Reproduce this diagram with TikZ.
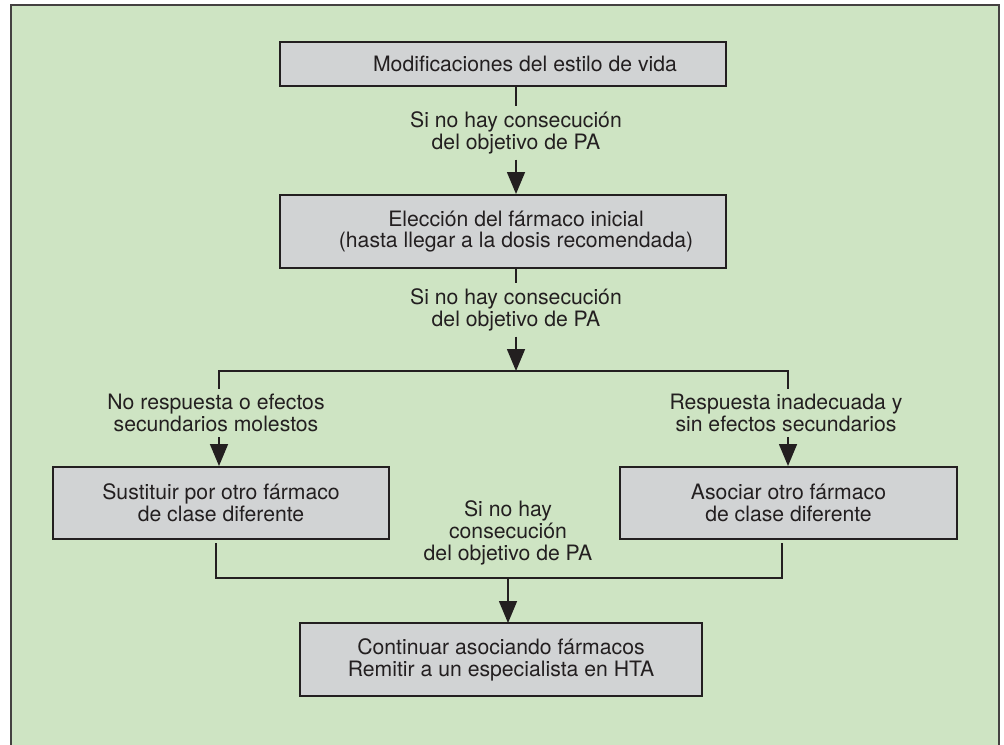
\documentclass[tikz,border=0pt]{standalone}
\usepackage{fontspec}
\setmainfont{TeX Gyre Heros}
\usetikzlibrary{arrows.meta}
\definecolor{bggreen}{RGB}{206,228,195}
\definecolor{boxgray}{RGB}{209,211,212}
\definecolor{ink}{RGB}{35,31,32}
\newcommand{\shiftline}{\hspace*{13pt}}
\begin{document}
\begin{tikzpicture}[x=0.5pt,y=-0.5pt,
  stepbox/.style={draw=ink,fill=boxgray,line width=1pt,align=center,inner sep=0pt,font=\fontsize{10.6}{10.9}\selectfont,text=ink},
  lbl/.style={align=center,inner sep=2.5pt,font=\fontsize{10.6}{10.9}\selectfont,text=ink},
  conn/.style={draw=ink,line width=0.8pt},
  arr/.style={conn,-{Triangle[width=9pt,length=11pt]}}]
\clip (0,0) rectangle (1004,744);
\fill[white] (0,0) rectangle (1004,744);
\draw[fill=bggreen,draw=ink!85,line width=1.2pt] (11,5) rectangle (999,790);

\node[stepbox,minimum width=223pt,minimum height=22pt] (b1) at (503,64) {\hspace*{22pt}Modificaciones del estilo de vida};
\node[lbl] (t1) at (516,133) {Si no hay consecución\\del objetivo de PA};
\node[stepbox,minimum width=223pt,minimum height=36.5pt] (b2) at (503,231.5) {\shiftline Elección del fármaco inicial\\\shiftline (hasta llegar a la dosis recomendada)};
\node[lbl] (t2) at (516,310) {Si no hay consecución\\del objetivo de PA};
\coordinate (split) at (516,371);
\coordinate (sl) at (219,371);
\coordinate (sr) at (788,371);
\node[lbl] (ll) at (216,413) {No respuesta o efectos\\secundarios molestos};
\node[lbl] (rl) at (786,413) {Respuesta inadecuada y\\sin efectos secundarios};
\node[stepbox,minimum width=168pt,minimum height=36pt] (lb) at (221,503) {Sustituir por otro fármaco\\de clase diferente};
\node[stepbox,minimum width=168.5pt,minimum height=36pt] (rb) at (788.5,503) {Asociar otro fármaco\\de clase diferente};
\node[lbl] (t3) at (508,533) {Si no hay\\consecución\\del objetivo de PA};
\coordinate (lt) at (216,543);
\coordinate (lj) at (216,578);
\coordinate (rt) at (782,543);
\coordinate (rj) at (782,578);
\coordinate (mj) at (508,578);
\node[stepbox,minimum width=201pt,minimum height=36.5pt] (b3) at (501,659.5) {Continuar asociando fármacos\\Remitir a un especialista en HTA};
\coordinate (b3in) at (508,623);

\draw[conn] (b1.south -| t1.north) -- (t1.north);
\draw[arr] (t1.south) -- (t1.south |- b2.north);
\draw[conn] (b2.south -| t2.north) -- (t2.north);
\draw[arr] (t2.south) -- (split);
\draw[conn] (sl |- ll.north) -- (sl) -- (sr) -- (sr |- rl.north);
\draw[arr] (sl |- ll.south) -- (sl |- lb.north);
\draw[arr] (sr |- rl.south) -- (sr |- rb.north);
\draw[conn] (lt) -- (lj) -- (rj) -- (rt);
\draw[arr] (mj) -- (b3in);
\end{tikzpicture}
\end{document}
